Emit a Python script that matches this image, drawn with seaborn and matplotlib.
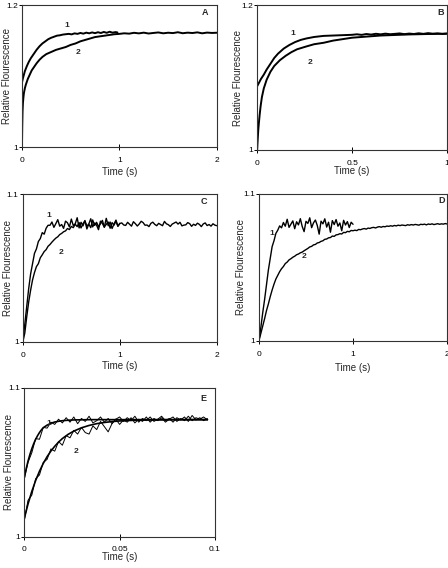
import matplotlib
matplotlib.use('Agg')
import matplotlib.pyplot as plt
import seaborn as sns

# ---- data ----

# panel A
a1_t = [0, 0.01, 0.02, 0.03, 0.05, 0.07, 0.09, 0.11, 0.13, 0.15, 0.18, 0.21, 0.24, 0.27, 0.30, 0.33, 0.36, 0.39,
        0.42, 0.45, 0.48, 0.51, 0.54, 0.57, 0.60, 0.63, 0.66, 0.69, 0.72, 0.75, 0.78, 0.81, 0.84, 0.87, 0.90, 0.93,
        0.96, 0.98]
a1_y = [1.091, 1.097, 1.102, 1.107, 1.114, 1.120, 1.125, 1.129, 1.133, 1.137, 1.142, 1.146, 1.149, 1.152, 1.154,
        1.1555, 1.157, 1.1575, 1.1585, 1.159, 1.1595, 1.1588, 1.1602, 1.1595, 1.1608, 1.1598, 1.1612, 1.1603, 1.1615,
        1.1605, 1.1618, 1.1607, 1.1622, 1.1610, 1.1625, 1.1612, 1.1620, 1.1615]
a2_t = [0, 0.003, 0.006, 0.01, 0.015, 0.02, 0.03, 0.04, 0.05, 0.06, 0.08, 0.10, 0.12, 0.15, 0.18, 0.21, 0.25, 0.30,
        0.35, 0.40, 0.45, 0.50, 0.55, 0.60, 0.65, 0.70, 0.75, 0.80, 0.85, 0.90, 0.95, 1.00, 1.05, 1.10, 1.15, 1.20,
        1.25, 1.30, 1.35, 1.40, 1.45, 1.50, 1.55, 1.60, 1.65, 1.70, 1.75, 1.80, 1.85, 1.90, 1.95, 2.00]
a2_y = [1.000, 1.030, 1.050, 1.062, 1.070, 1.076, 1.083, 1.088, 1.092, 1.096, 1.102, 1.108, 1.112, 1.118, 1.123,
        1.127, 1.131, 1.134, 1.137, 1.139, 1.141, 1.144, 1.146, 1.149, 1.151, 1.153, 1.155, 1.156, 1.157, 1.158,
        1.159, 1.1595, 1.1603, 1.1598, 1.1610, 1.1602, 1.1612, 1.1600, 1.1608, 1.1615, 1.1603, 1.1611, 1.1606,
        1.1618, 1.1604, 1.1612, 1.1607, 1.1616, 1.1603, 1.1613, 1.1608, 1.1611]

# panel B
b1_t = [0, 0.01, 0.02, 0.035, 0.05, 0.07, 0.09, 0.11, 0.14, 0.17, 0.20, 0.23, 0.26, 0.30, 0.35, 0.40, 0.45, 0.50,
        0.525, 0.55, 0.575, 0.60, 0.625, 0.65, 0.675, 0.70, 0.725, 0.75, 0.775, 0.80, 0.825, 0.85, 0.875, 0.90,
        0.925, 0.95, 0.975, 1.00]
b1_y = [1.088, 1.093, 1.098, 1.104, 1.111, 1.119, 1.127, 1.133, 1.140, 1.145, 1.149, 1.152, 1.154, 1.156, 1.1575,
        1.158, 1.1585, 1.159, 1.1597, 1.1589, 1.1601, 1.1593, 1.1604, 1.1596, 1.1606, 1.1598, 1.1603, 1.1609,
        1.1599, 1.1607, 1.1601, 1.1611, 1.1603, 1.1613, 1.1605, 1.1610, 1.1602, 1.1608]
b2_t = [0, 0.003, 0.006, 0.009, 0.013, 0.018, 0.025, 0.035, 0.05, 0.07, 0.09, 0.12, 0.15, 0.18, 0.21, 0.26, 0.30,
        0.35, 0.40, 0.45, 0.50, 0.55, 0.60, 0.65, 0.70, 0.75, 0.80, 0.85, 0.90, 0.95, 1.00]
b2_y = [1.000, 1.015, 1.028, 1.037, 1.048, 1.060, 1.073, 1.085, 1.097, 1.108, 1.116, 1.124, 1.130, 1.135, 1.139,
        1.143, 1.146, 1.148, 1.151, 1.153, 1.155, 1.156, 1.157, 1.158, 1.1585, 1.159, 1.1595, 1.1598, 1.1601,
        1.1603, 1.1605]

# sampling times shared by panels C and D
t_fast = [0, 0.02, 0.04, 0.06, 0.08, 0.10, 0.12, 0.14, 0.16, 0.18, 0.20, 0.22, 0.24, 0.26, 0.28, 0.30, 0.32, 0.34,
          0.36, 0.38, 0.40, 0.42, 0.44, 0.46, 0.48, 0.50, 0.52, 0.54, 0.56, 0.58, 0.60, 0.62, 0.64, 0.66, 0.68, 0.70,
          0.72, 0.74, 0.76, 0.78, 0.80, 0.82, 0.84, 0.86, 0.88, 0.90, 0.92, 0.94, 0.96, 0.98, 1.00]
t_slow = t_fast + [1.02, 1.04, 1.06, 1.08, 1.10, 1.12, 1.14, 1.16, 1.18, 1.20, 1.22, 1.24, 1.26, 1.28, 1.30, 1.32,
                   1.34, 1.36, 1.38, 1.40, 1.42, 1.44, 1.46, 1.48, 1.50, 1.52, 1.54, 1.56, 1.58, 1.60, 1.62, 1.64,
                   1.66, 1.68, 1.70, 1.72, 1.74, 1.76, 1.78, 1.80, 1.82, 1.84, 1.86, 1.88, 1.90, 1.92, 1.94, 1.96,
                   1.98, 2.00]

# panel C
c1_y = [1.001, 1.012, 1.024, 1.036, 1.046, 1.053, 1.060, 1.063, 1.068, 1.070, 1.074, 1.073, 1.077, 1.079,
        1.0790, 1.0812, 1.0776, 1.0801, 1.0828, 1.0784, 1.0795, 1.0769, 1.0818, 1.0807,
        1.0779, 1.0832, 1.0788, 1.0800, 1.0841, 1.0772, 1.0810, 1.0786, 1.0822, 1.0765,
        1.0798, 1.0834, 1.0779, 1.0805, 1.0791, 1.0760, 1.0818, 1.0803, 1.0776, 1.0837,
        1.0787, 1.0812, 1.0768, 1.0799, 1.0825, 1.0783, 1.0803]
c2_y = [1.000, 1.006, 1.017, 1.027, 1.035, 1.042, 1.047, 1.051, 1.053, 1.057, 1.0590, 1.0612, 1.0625, 1.0648,
        1.0660, 1.0676, 1.0690, 1.0703, 1.0712, 1.0727, 1.0735, 1.0746, 1.0752, 1.0768, 1.0761, 1.0782, 1.0774,
        1.0797, 1.0781, 1.0808, 1.0772, 1.0801, 1.0819, 1.0785, 1.0797, 1.0774, 1.0826, 1.0789, 1.0810, 1.0781,
        1.0800, 1.0823, 1.0779, 1.0796, 1.0812, 1.0770, 1.0808, 1.0791, 1.0817, 1.0784, 1.0802,
        1.0806, 1.0792, 1.0789, 1.0810, 1.0797, 1.0784, 1.0814, 1.0801, 1.0785, 1.0799,
        1.0817, 1.0808, 1.0790, 1.0792, 1.0781, 1.0803, 1.0811, 1.0796, 1.0787, 1.0803,
        1.0795, 1.0787, 1.0816, 1.0800, 1.0794, 1.0782, 1.0798, 1.0805, 1.0812, 1.0798,
        1.0810, 1.0786, 1.0791, 1.0793, 1.0808, 1.0801, 1.0783, 1.0797, 1.0789, 1.0804,
        1.0796, 1.0781, 1.0799, 1.0806, 1.0788, 1.0795, 1.0784, 1.0800, 1.0791, 1.0787]

# panel D
d1_y = [1.000, 1.009, 1.019, 1.028, 1.038, 1.048, 1.056, 1.064, 1.068, 1.073,
        1.0752, 1.0781, 1.0768, 1.0804, 1.0779, 1.0826, 1.0771, 1.0793, 1.0815, 1.0762,
        1.0809, 1.0788, 1.0830, 1.0777, 1.0742, 1.0812, 1.0798, 1.0836, 1.0769, 1.0802,
        1.0821, 1.0784, 1.0725, 1.0813, 1.0795, 1.0829, 1.0773, 1.0806, 1.0738, 1.0817,
        1.0790, 1.0824, 1.0779, 1.0801, 1.0748, 1.0819, 1.0787, 1.0810, 1.0770, 1.0806, 1.0792]
d2_y = [1.000, 1.005, 1.010, 1.015, 1.0205, 1.025, 1.030, 1.0345, 1.0385, 1.042, 1.0445, 1.047, 1.0490, 1.0505,
        1.0525, 1.0535, 1.0550, 1.0558, 1.0568, 1.0575, 1.0585, 1.0590, 1.0598, 1.0603, 1.0612, 1.0620, 1.0628,
        1.0638, 1.0642, 1.0652, 1.0655, 1.0665, 1.0668, 1.0676, 1.0680, 1.0690, 1.0692, 1.0700, 1.0702, 1.0712,
        1.0710, 1.0720, 1.0722, 1.0728, 1.0726, 1.0737, 1.0735, 1.0744, 1.0741, 1.0750, 1.0748,
        1.0752, 1.0749, 1.0757, 1.0755, 1.0760, 1.0763, 1.0759, 1.0766, 1.0764, 1.0769,
        1.0771, 1.0767, 1.0773, 1.0776, 1.0772, 1.0777, 1.0775, 1.0780, 1.0778, 1.0782,
        1.0779, 1.0784, 1.0781, 1.0786, 1.0783, 1.0787, 1.0785, 1.0783, 1.0789, 1.0786,
        1.0790, 1.0787, 1.0791, 1.0789, 1.0786, 1.0792, 1.0790, 1.0793, 1.0788, 1.0794,
        1.0791, 1.0795, 1.0790, 1.0793, 1.0796, 1.0792, 1.0795, 1.0793, 1.0797, 1.0794]

# panel E (raw traces + fitted curves)
e_t = [0, 0.002, 0.004, 0.006, 0.008, 0.010, 0.012, 0.014, 0.016, 0.018, 0.020, 0.022, 0.024, 0.026, 0.028, 0.030,
       0.032, 0.034, 0.036, 0.038, 0.040, 0.042, 0.044, 0.046, 0.048, 0.050, 0.052, 0.054, 0.056, 0.058, 0.060,
       0.062, 0.064, 0.066, 0.068, 0.070, 0.072, 0.074, 0.076, 0.078, 0.080, 0.082, 0.084, 0.086, 0.088, 0.090,
       0.092, 0.094, 0.096]
e1_y = [1.0385, 1.0500, 1.0565, 1.0660, 1.0655, 1.0735, 1.0730, 1.0770, 1.0755, 1.0790, 1.0765, 1.0800, 1.0770,
        1.0805, 1.0760, 1.0795, 1.0775, 1.0810, 1.0765, 1.0780, 1.0805, 1.0770, 1.0795, 1.0760, 1.0790, 1.0805,
        1.0775, 1.0800, 1.0780, 1.0810, 1.0770, 1.0795, 1.0780, 1.0805, 1.0775, 1.0790, 1.0810, 1.0780, 1.0795,
        1.0770, 1.0800, 1.0785, 1.0805, 1.0775, 1.0815, 1.0785, 1.0800, 1.0780, 1.0795]
e2_y = [1.0105, 1.0245, 1.0280, 1.0390, 1.0415, 1.0500, 1.0520, 1.0590, 1.0575, 1.0640, 1.0615, 1.0680, 1.0665,
        1.0715, 1.0690, 1.0735, 1.0700, 1.0690, 1.0745, 1.0720, 1.0775, 1.0740, 1.0705, 1.0760, 1.0790, 1.0755,
        1.0785, 1.0770, 1.0800, 1.0765, 1.0790, 1.0775, 1.0805, 1.0770, 1.0795, 1.0780, 1.0800, 1.0770, 1.0790,
        1.0805, 1.0775, 1.0795, 1.0780, 1.0810, 1.0780, 1.0800, 1.0790, 1.0805, 1.0785]
e1_fit_t = [0, 0.001, 0.002, 0.003, 0.004, 0.005, 0.006, 0.007, 0.008, 0.009, 0.010, 0.012, 0.014, 0.016, 0.018,
            0.020, 0.023, 0.026, 0.030, 0.035, 0.040, 0.050, 0.060, 0.070, 0.080, 0.090, 0.096]
e1_fit_y = [1.0395, 1.0455, 1.0508, 1.0553, 1.0592, 1.0626, 1.0655, 1.0679, 1.0700, 1.0718, 1.0733, 1.0750, 1.0763,
            1.0771, 1.0776, 1.0780, 1.0783, 1.0785, 1.0786, 1.0787, 1.0787, 1.0787, 1.0787, 1.0787, 1.0787, 1.0787,
            1.0787]
e2_fit_t = [0, 0.002, 0.004, 0.006, 0.008, 0.010, 0.012, 0.014, 0.016, 0.018, 0.020, 0.023, 0.026, 0.030, 0.034,
            0.038, 0.042, 0.046, 0.050, 0.056, 0.062, 0.070, 0.080, 0.090, 0.096]
e2_fit_y = [1.0120, 1.0220, 1.0305, 1.0378, 1.0440, 1.0493, 1.0538, 1.0576, 1.0608, 1.0636, 1.0660, 1.0688, 1.0710,
            1.0732, 1.0748, 1.0760, 1.0768, 1.0774, 1.0778, 1.0782, 1.0784, 1.0786, 1.0787, 1.0787, 1.0787]

# ---- figure ----
sns.set_style('ticks')
plt.rcParams['font.family'] = ['Liberation Sans', 'DejaVu Sans']

fig = plt.figure(figsize=(4.48, 5.68), dpi=100)

# rect, xlim, xticks, xticklabels, ylim, yticklabels, letter pos, ylabel x, xlabel pad
panels = {
    'A': ([0.049, 0.741, 0.435, 0.250], (0, 2), [0, 1, 2], ['0', '1', '2'], (1, 1.2), ['1', '1.2'], (0.94, 0.95), -0.052, 2),
    'B': ([0.574, 0.736, 0.424, 0.255], (0, 1), [0, 0.5, 1], ['0', '0.5', '1'], (1, 1.2), ['1', '1.2'], (0.967, 0.947), -0.072, -0.5),
    'C': ([0.051, 0.398, 0.433, 0.260], (0, 2), [0, 1, 2], ['0', '1', '2'], (1, 1.1), ['1', '1.1'], (0.933, 0.948), -0.052, 2),
    'D': ([0.578, 0.400, 0.420, 0.259], (0, 2), [0, 1, 2], ['0', '1', '2'], (1, 1.1), ['1', '1.1'], (0.97, 0.952), -0.071, 4),
    'E': ([0.054, 0.055, 0.426, 0.262], (0, 0.1), [0, 0.05, 0.1], ['0', '0.05', '0.1'], (1, 1.1), ['1', '1.1'], (0.937, 0.93), -0.055, -1),
}

traces = {
    'A': [(a1_t, a1_y, 1.4), (a2_t, a2_y, 1.4)],
    'B': [(b1_t, b1_y, 1.4), (b2_t, b2_y, 1.4)],
    'C': [(t_fast, c1_y, 1.0), (t_slow, c2_y, 1.0)],
    'D': [(t_fast, d1_y, 1.0), (t_slow, d2_y, 1.0)],
    'E': [(e_t, e1_y, 0.7), (e_t, e2_y, 0.7), (e1_fit_t, e1_fit_y, 1.2), (e2_fit_t, e2_fit_y, 1.2)],
}

# where the "1" and "2" tags sit (data coords)
tags = {
    'A': [(0.46, 1.171), (0.58, 1.133)],
    'B': [(0.19, 1.161), (0.28, 1.121)],
    'C': [(0.27, 1.0857), (0.39, 1.0607)],
    'D': [(0.14, 1.073), (0.48, 1.057)],
    'E': [(0.0127, 1.0761), (0.027, 1.0575)],
}

for key, (rect, xlim, xt, xtl, ylim, ytl, letter_pos, ylab_x, xlab_pad) in panels.items():
    ax = fig.add_axes(rect)
    for t, y, lw in traces[key]:
        sns.lineplot(x=t, y=y, ax=ax, color='black', linewidth=lw, estimator=None, sort=False)
    ax.set_xlim(*xlim)
    ax.set_ylim(*ylim)
    ax.set_xticks(xt)
    ax.set_xticklabels(xtl)
    ax.set_yticks(list(ylim))
    ax.set_yticklabels(ytl)
    ax.tick_params(labelsize=6, length=4, width=0.7, direction='inout', colors='black')
    ax.tick_params(axis='x', pad=5)
    ax.tick_params(axis='y', pad=1)
    for s in ax.spines.values():
        s.set_visible(True)
        s.set_linewidth(0.8)
        s.set_color('#333333')
    ax.set_xlabel('Time (s)', fontsize=7, labelpad=xlab_pad)
    ax.set_ylabel('Relative Flourescence', fontsize=7)
    ax.yaxis.set_label_coords(ylab_x, 0.5)
    ax.text(letter_pos[0], letter_pos[1], key, transform=ax.transAxes, fontsize=6.5,
            fontweight='bold', ha='center', va='center')
    for lab, (tx, ty) in zip(['1', '2'], tags[key]):
        ax.text(tx, ty, lab, fontsize=6, fontweight='bold', ha='center', va='center')

fig.savefig('out.png', dpi=100)
